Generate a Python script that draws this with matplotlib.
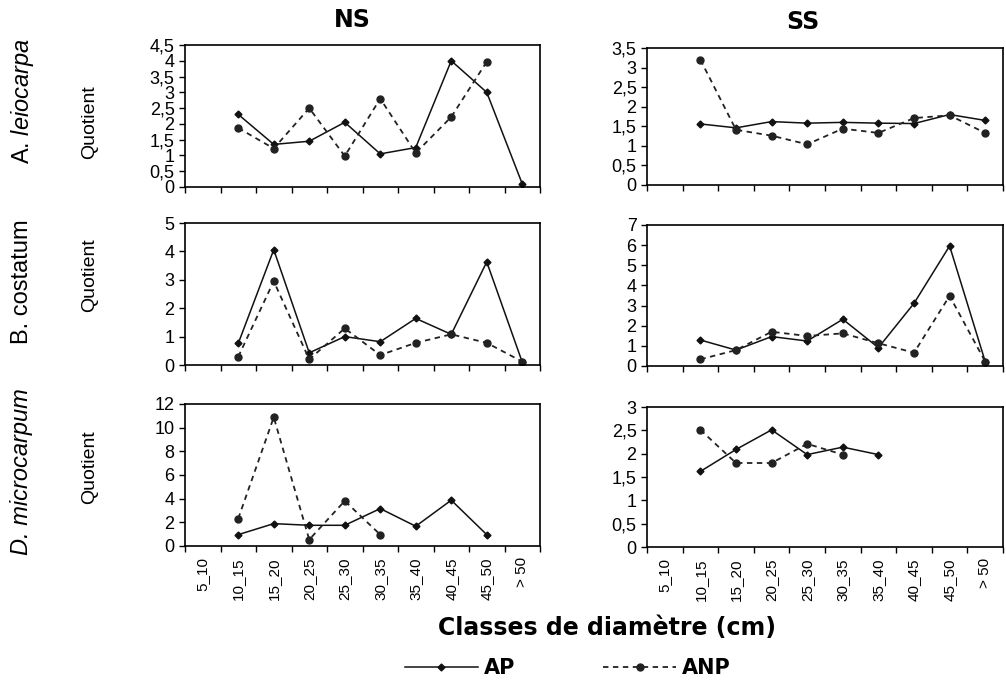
import numpy as np
import matplotlib.pyplot as plt
from matplotlib.lines import Line2D

classes = ['5_10', '10_15', '15_20', '20_25', '25_30', '30_35', '35_40',
           '40_45', '45_50', '> 50']
nan = np.nan

# NS column
ns_leio_ap = [nan, 2.3, 1.35, 1.45, 2.05, 1.05, 1.25, 4.0, 3.0, 0.1]
ns_leio_anp = [nan, 1.87, 1.22, 2.5, 0.98, 2.8, 1.08, 2.22, 3.97, nan]
ns_cost_ap = [nan, 0.76, 4.06, 0.43, 1.0, 0.82, 1.64, 1.08, 3.63, 0.1]
ns_cost_anp = [nan, 0.29, 2.95, 0.2, 1.29, 0.35, 0.78, 1.08, 0.78, 0.12]
ns_micro_ap = [nan, 0.96, 1.89, 1.75, 1.75, 3.16, 1.67, 3.87, 0.96, nan]
ns_micro_anp = [nan, 2.32, 10.88, 0.54, 3.81, 0.96, nan, nan, nan, nan]

# SS column
ss_leio_ap = [nan, 1.56, 1.46, 1.62, 1.58, 1.6, 1.58, 1.57, 1.8, 1.65]
ss_leio_anp = [nan, 3.2, 1.41, 1.26, 1.04, 1.44, 1.33, 1.71, 1.78, 1.33]
ss_cost_ap = [nan, 1.29, 0.79, 1.46, 1.24, 2.32, 0.91, 3.11, 5.96, 0.22]
ss_cost_anp = [nan, 0.33, 0.79, 1.7, 1.49, 1.62, 1.13, 0.66, 3.48, 0.22]
ss_micro_ap = [nan, 1.62, 2.09, 2.51, 1.98, 2.14, 1.98, nan, nan, nan]
ss_micro_anp = [nan, 2.51, 1.8, 1.8, 2.21, 1.98, nan, nan, nan, nan]

ylims = [[4.5, 3.5], [5, 7], [12, 3]]
ysteps = [[0.5, 0.5], [1, 1], [2, 0.5]]
series = [[(ns_leio_ap, ns_leio_anp), (ss_leio_ap, ss_leio_anp)],
          [(ns_cost_ap, ns_cost_anp), (ss_cost_ap, ss_cost_anp)],
          [(ns_micro_ap, ns_micro_anp), (ss_micro_ap, ss_micro_anp)]]

plt.rcParams['font.family'] = ['Liberation Sans', 'DejaVu Sans']
plt.rcParams['mathtext.fontset'] = 'custom'
plt.rcParams['mathtext.rm'] = 'Liberation Sans'
plt.rcParams['mathtext.it'] = 'Liberation Sans:italic'

W, H = 1006, 688
fig = plt.figure(figsize=(W / 100, H / 100), dpi=100)

# panel boxes in pixels: (left, top, right, bottom)
boxes = [[(185, 45, 540, 187), (647, 48, 1003, 185)],
         [(185, 223, 540, 365), (647, 225, 1003, 366)],
         [(185, 404, 540, 546), (647, 407, 1003, 547)]]


def fmt(v):
    return ('%g' % v).replace('.', ',')


x = np.arange(len(classes)) + 0.5
for r in range(3):
    for c in range(2):
        l, t, rr, b = boxes[r][c]
        ax = fig.add_axes([l / W, 1 - b / H, (rr - l) / W, (b - t) / H])
        ap, anp = series[r][c]
        ax.plot(x, ap, color='#111111', lw=1.1, marker='D', ms=3.5)
        ax.plot(x, anp, color='#222222', lw=1.3, ls=(0, (3, 2.5)),
                marker='o', ms=5)
        ax.set_xlim(0, len(classes))
        ax.set_ylim(0, ylims[r][c])
        ticks = np.arange(0, ylims[r][c] + 1e-9, ysteps[r][c])
        ax.set_yticks(ticks)
        ax.set_yticklabels([fmt(v) for v in ticks], fontsize=13)
        ax.set_xticks(np.arange(len(classes) + 1))
        ax.set_xticklabels([])
        ax.set_xticks(x, minor=True)
        ax.tick_params(axis='x', which='minor', length=0, pad=8)
        if r == 2:
            ax.set_xticklabels(classes, minor=True, rotation=90, fontsize=11)
        ax.tick_params(axis='both', which='major', length=4.5, width=1,
                       direction='out', pad=3)
        for sp in ax.spines.values():
            sp.set_linewidth(1.2)

fig.text(352 / W, 1 - 20 / H, 'NS', fontsize=17, fontweight='bold',
         family='DejaVu Sans', ha='center', va='center')
fig.text(803 / W, 1 - 22 / H, 'SS', fontsize=17, fontweight='bold',
         family='DejaVu Sans', ha='center', va='center')

fig.text(22 / W, 1 - 101 / H, r'A. $\mathit{leiocarpa}$', rotation=90,
         fontsize=17, ha='center', va='center')
fig.text(22 / W, 1 - 282 / H, 'B. costatum', rotation=90, fontsize=17,
         ha='center', va='center')
fig.text(22 / W, 1 - 472 / H, 'D. microcarpum', rotation=90, fontsize=17,
         style='italic', ha='center', va='center')
for yq in [122, 275, 467]:
    fig.text(90 / W, 1 - yq / H, 'Quotient', rotation=90, fontsize=14,
             ha='center', va='center')

fig.text(607 / W, 1 - 628 / H, 'Classes de diamètre (cm)', fontsize=17,
         fontweight='bold', family='DejaVu Sans', ha='center', va='center')

handles = [Line2D([], [], color='#111111', lw=1.1, marker='D', ms=3.5),
           Line2D([], [], color='#222222', lw=1.3, ls=(0, (3, 2.5)),
                  marker='o', ms=5)]
fig.legend(handles, ['AP', 'ANP'], loc='center', ncol=2,
           bbox_to_anchor=(568 / W, 1 - 668 / H), frameon=False,
           numpoints=1, handlelength=3.5, columnspacing=4.2,
           handletextpad=0.3,
           prop={'family': 'DejaVu Sans', 'weight': 'bold', 'size': 15})

fig.savefig('out.png', dpi=100)
